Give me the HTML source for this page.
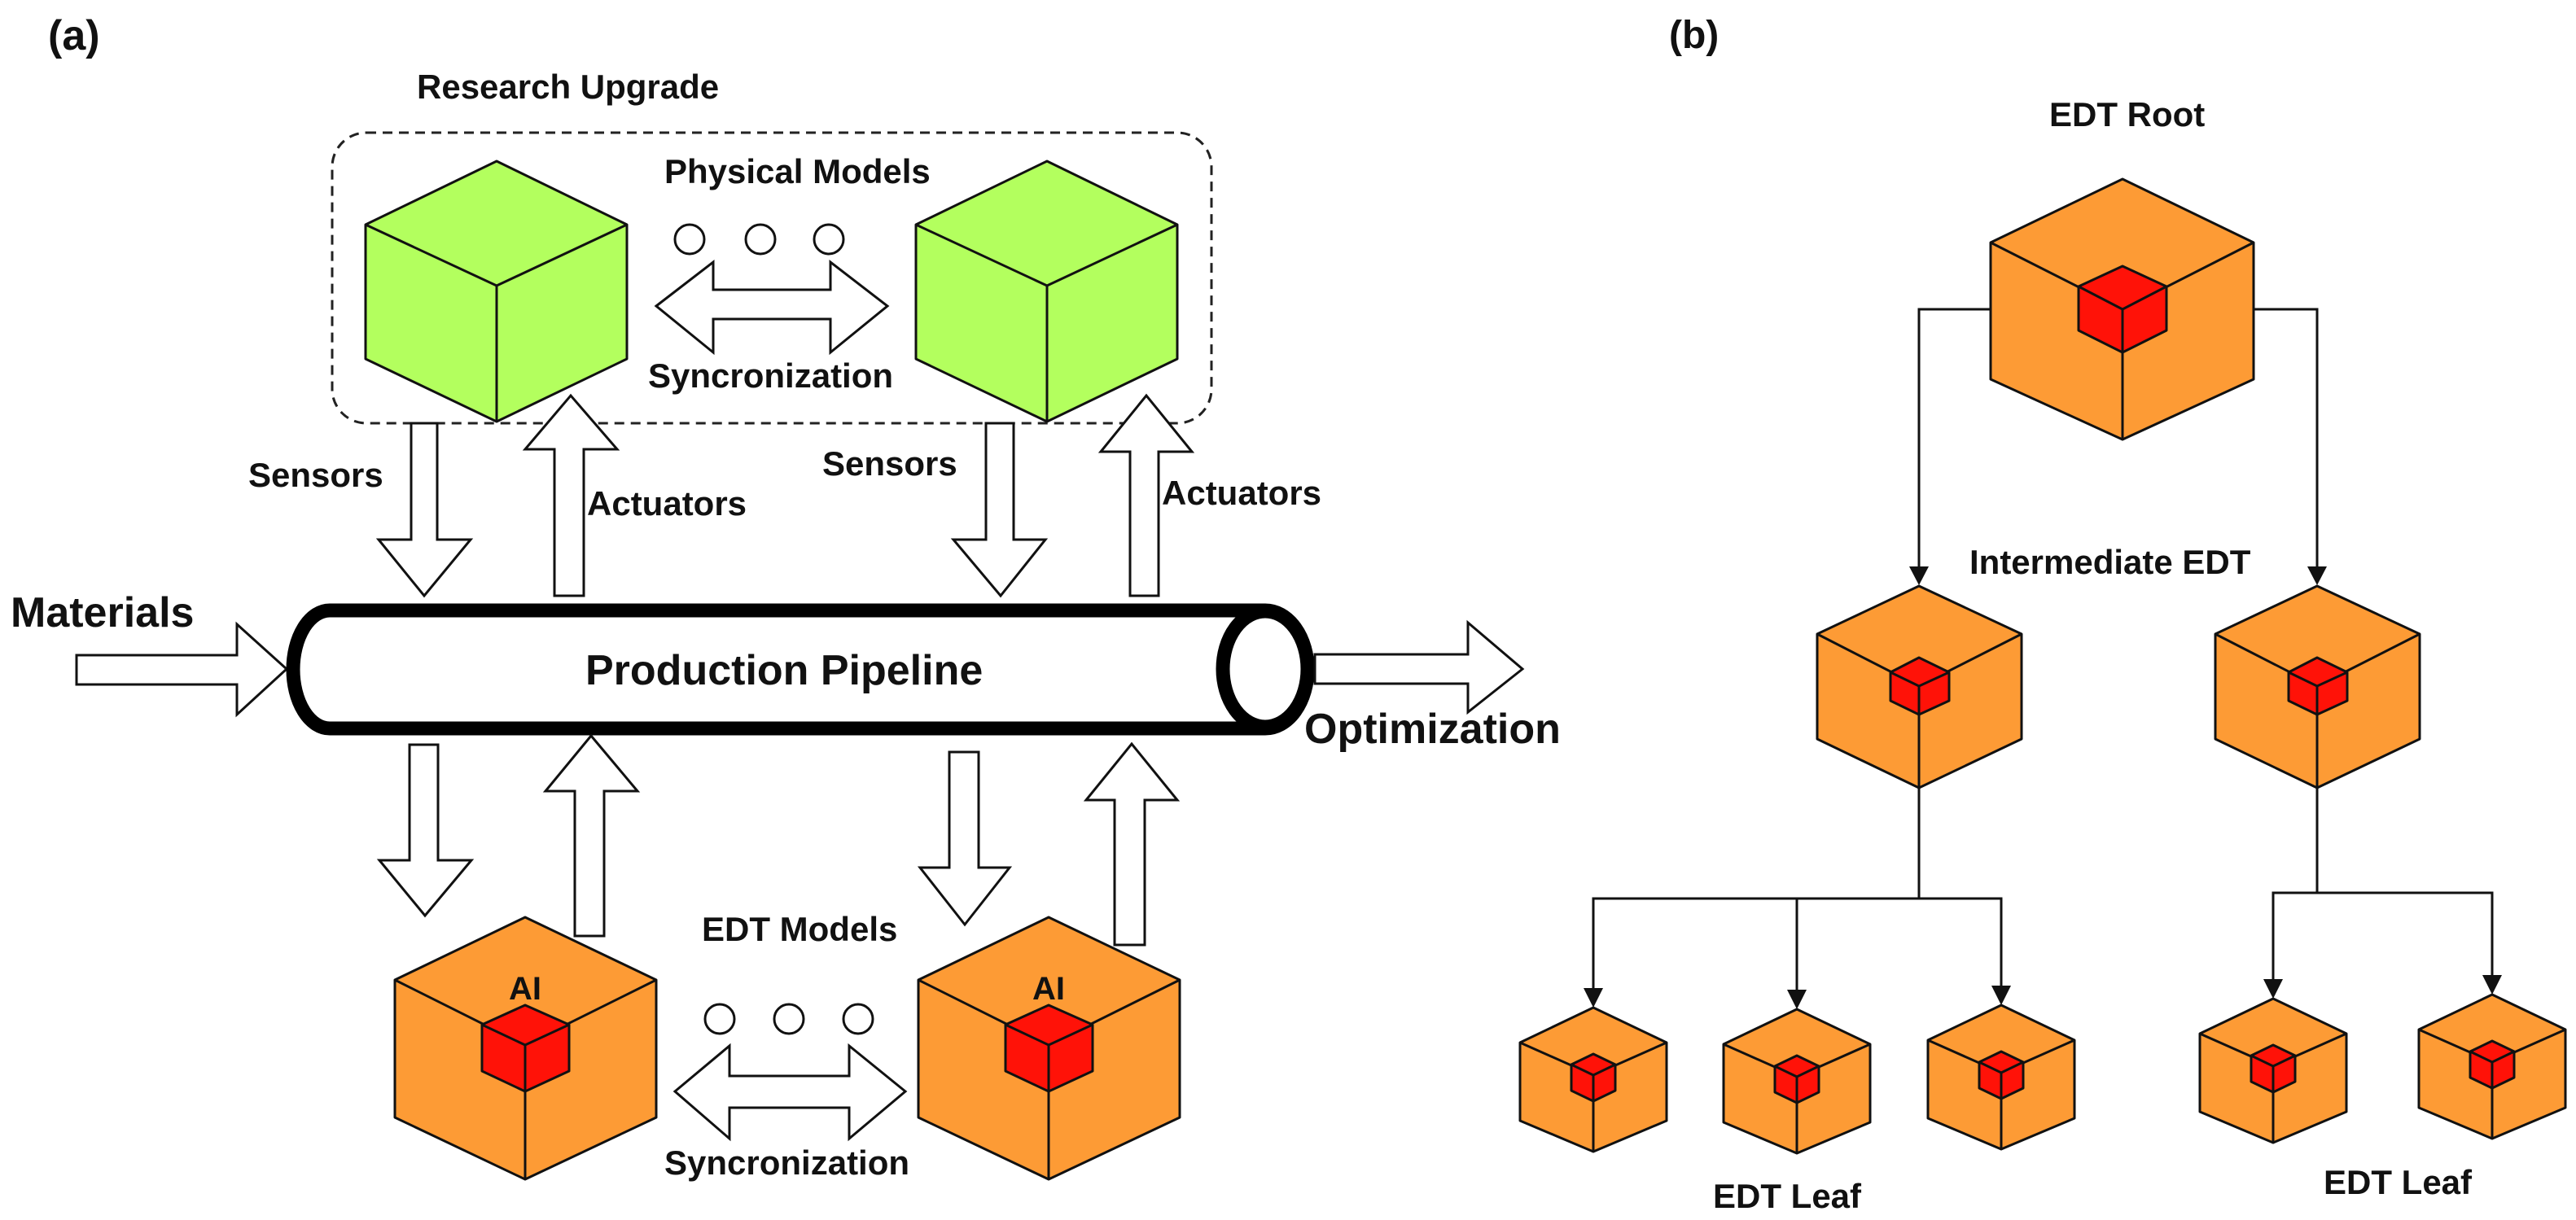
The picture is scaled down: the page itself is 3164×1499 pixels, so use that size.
<!DOCTYPE html>
<html><head><meta charset="utf-8"><style>
html,body{margin:0;padding:0;background:#fff;}
svg{display:block;}
text{font-family:"Liberation Sans",Arial,sans-serif;font-weight:bold;fill:#111;}
</style></head><body>
<svg width="3164" height="1499" viewBox="0 0 3164 1499" xmlns="http://www.w3.org/2000/svg">
<rect width="3164" height="1499" fill="#fff"/>

<!-- Panel (a) -->
<text x="59" y="61" font-size="52">(a)</text>
<text x="512" y="121" font-size="42">Research Upgrade</text>
<rect x="408" y="163" width="1080" height="357" rx="42" ry="42" fill="none" stroke="#222" stroke-width="3" stroke-dasharray="12,8"/>

<g stroke="#111" stroke-width="3" stroke-linejoin="round">
<polygon points="610,198 770,276 770,441 610,518 449,441 449,276" fill="#b3ff5e"/>
<polyline points="449,276 610,351 770,276" fill="none"/>
<line x1="610" y1="351" x2="610" y2="518"/>
<polygon points="1286,198 1446,276 1446,441 1286,518 1125,441 1125,276" fill="#b3ff5e"/>
<polyline points="1125,276 1286,351 1446,276" fill="none"/>
<line x1="1286" y1="351" x2="1286" y2="518"/>
</g>

<text x="816" y="225" font-size="42">Physical Models</text>
<g fill="#fff" stroke="#111" stroke-width="3">
<circle cx="847" cy="294" r="18"/><circle cx="934" cy="294" r="18"/><circle cx="1018" cy="294" r="18"/>
<polygon points="806,376 876,322 876,356 1020,356 1020,322 1090,376 1020,433 1020,392 876,392 876,433"/>
</g>
<text x="796" y="476" font-size="42">Syncronization</text>

<g fill="#fff" stroke="#111" stroke-width="3" stroke-linejoin="miter">
<polygon points="505,520 537,520 537,663 578,663 521,732 465,663 505,663"/>
<polygon points="681,732 717,732 717,552 758,552 701,486 645,552 681,552"/>
<polygon points="1211,520 1245,520 1245,663 1284,663 1229,732 1171,663 1211,663"/>
<polygon points="1388,732 1423,732 1423,555 1464,555 1408,486 1352,555 1388,555"/>
</g>
<text x="305" y="598" font-size="42">Sensors</text>
<text x="721" y="633" font-size="42">Actuators</text>
<text x="1010" y="584" font-size="42">Sensors</text>
<text x="1427" y="620" font-size="42">Actuators</text>

<text x="13" y="770" font-size="52">Materials</text>
<polygon points="94,805 291,805 291,767 352,822 291,878 291,841 94,841" fill="#fff" stroke="#111" stroke-width="3"/>

<path d="M405,750 L1554,750 A52,72.5 0 0 1 1554,895 L405,895 A45,72.5 0 0 1 405,750 Z" fill="#fff" stroke="#000" stroke-width="17"/>
<ellipse cx="1554" cy="822" rx="52" ry="71" fill="#fff" stroke="#000" stroke-width="17"/>
<text x="719" y="841" font-size="52">Production Pipeline</text>

<polygon points="1615,804 1803,804 1803,765 1870,822 1803,875 1803,840 1615,840" fill="#fff" stroke="#111" stroke-width="3"/>
<text x="1602" y="913" font-size="52">Optimization</text>

<g fill="#fff" stroke="#111" stroke-width="3">
<polygon points="503,915 538,915 538,1057 579,1057 522,1125 466,1057 503,1057"/>
<polygon points="706,1150 742,1150 742,972 783,972 726,904 670,972 706,972"/>
<polygon points="1166,924 1202,924 1202,1066 1240,1066 1185,1136 1130,1066 1166,1066"/>
<polygon points="1369,1161 1406,1161 1406,983 1446,983 1390,914 1334,983 1369,983"/>
</g>
<text x="862" y="1156" font-size="42">EDT Models</text>

<g stroke="#111" stroke-width="3" stroke-linejoin="round">
<polygon points="645,1127 806,1204 806,1373 645,1449 485,1373 485,1204" fill="#fd9b35"/>
<polyline points="485,1204 645,1284 806,1204" fill="none"/>
<line x1="645" y1="1284" x2="645" y2="1449"/>
<polygon points="645,1235 699,1259 699,1316 645,1341 592,1316 592,1259" fill="#ff1208"/>
<polyline points="592,1259 645,1284 699,1259" fill="none"/>
<line x1="645" y1="1284" x2="645" y2="1341"/>
<polygon points="1288,1127 1449,1204 1449,1373 1288,1449 1128,1373 1128,1204" fill="#fd9b35"/>
<polyline points="1128,1204 1288,1284 1449,1204" fill="none"/>
<line x1="1288" y1="1284" x2="1288" y2="1449"/>
<polygon points="1288,1235 1342,1259 1342,1316 1288,1341 1235,1316 1235,1259" fill="#ff1208"/>
<polyline points="1235,1259 1288,1284 1342,1259" fill="none"/>
<line x1="1288" y1="1284" x2="1288" y2="1341"/>
</g>
<text x="645" y="1228" font-size="40" text-anchor="middle">AI</text>
<text x="1288" y="1228" font-size="40" text-anchor="middle">AI</text>

<g fill="#fff" stroke="#111" stroke-width="3">
<circle cx="884" cy="1252" r="18"/><circle cx="969" cy="1252" r="18"/><circle cx="1054" cy="1252" r="18"/>
<polygon points="829,1341 896,1285 896,1322 1043,1322 1043,1285 1112,1341 1043,1399 1043,1361 896,1361 896,1399"/>
</g>
<text x="816" y="1443" font-size="42">Syncronization</text>

<!-- Panel (b) -->
<text x="2050" y="59" font-size="48">(b)</text>
<text x="2517" y="155" font-size="42">EDT Root</text>
<text x="2419" y="705" font-size="42">Intermediate EDT</text>
<text x="2104" y="1484" font-size="42">EDT Leaf</text>
<text x="2854" y="1467" font-size="42">EDT Leaf</text>

<g fill="none" stroke="#111" stroke-width="3">
<polyline points="2445,380 2357,380 2357,700"/>
<polyline points="2768,380 2846,380 2846,700"/>
<polyline points="2357,968 2357,1104"/>
<polyline points="1957,1221 1957,1104 2458,1104 2458,1218"/>
<line x1="2207" y1="1104" x2="2207" y2="1223"/>
<polyline points="2846,968 2846,1097"/>
<polyline points="2792,1210 2792,1097 3061,1097 3061,1205"/>
</g>
<g fill="#111">
<polygon points="2345,696 2369,696 2357,719"/>
<polygon points="2834,696 2858,696 2846,719"/>
<polygon points="1945,1214 1969,1214 1957,1238"/>
<polygon points="2195,1216 2219,1216 2207,1240"/>
<polygon points="2446,1211 2470,1211 2458,1235"/>
<polygon points="2780,1203 2804,1203 2792,1227"/>
<polygon points="3049,1198 3073,1198 3061,1222"/>
</g>

<g stroke="#111" stroke-width="3" stroke-linejoin="round">
<polygon points="2607,220 2768,298 2768,466 2607,540 2445,466 2445,298" fill="#fd9b35"/>
<polyline points="2445,298 2607,380 2768,298" fill="none"/>
<line x1="2607" y1="380" x2="2607" y2="540"/>
<polygon points="2607,327 2661,352 2661,406 2607,433 2553,406 2553,352" fill="#ff1208"/>
<polyline points="2553,352 2607,380 2661,352" fill="none"/>
<line x1="2607" y1="380" x2="2607" y2="433"/>
<polygon points="2357,720 2483,779 2483,908 2357,968 2232,908 2232,779" fill="#fd9b35"/>
<polyline points="2232,779 2357,843 2483,779" fill="none"/>
<line x1="2357" y1="843" x2="2357" y2="968"/>
<polygon points="2357,808 2394,826 2394,861 2357,878 2322,861 2322,826" fill="#ff1208"/>
<polyline points="2322,826 2357,843 2394,826" fill="none"/>
<line x1="2357" y1="843" x2="2357" y2="878"/>
<polygon points="2846,720 2972,779 2972,908 2846,968 2721,908 2721,779" fill="#fd9b35"/>
<polyline points="2721,779 2846,843 2972,779" fill="none"/>
<line x1="2846" y1="843" x2="2846" y2="968"/>
<polygon points="2846,808 2883,826 2883,861 2846,878 2811,861 2811,826" fill="#ff1208"/>
<polyline points="2811,826 2846,843 2883,826" fill="none"/>
<line x1="2846" y1="843" x2="2846" y2="878"/>
</g>

<g stroke="#111" stroke-width="3" stroke-linejoin="round">
<g transform="translate(1957,1238)">
<polygon points="0,0 90,43 90,139 0,177 -90,139 -90,43" fill="#fd9b35"/>
<polyline points="-90,43 0,83 90,43" fill="none"/><line x1="0" y1="83" x2="0" y2="177"/>
<polygon points="0,57 27,70 27,102 0,115 -27,102 -27,70" fill="#ff1208"/>
<polyline points="-27,70 0,83 27,70" fill="none"/><line x1="0" y1="83" x2="0" y2="115"/>
</g>
<g transform="translate(2207,1240)">
<polygon points="0,0 90,43 90,139 0,177 -90,139 -90,43" fill="#fd9b35"/>
<polyline points="-90,43 0,83 90,43" fill="none"/><line x1="0" y1="83" x2="0" y2="177"/>
<polygon points="0,57 27,70 27,102 0,115 -27,102 -27,70" fill="#ff1208"/>
<polyline points="-27,70 0,83 27,70" fill="none"/><line x1="0" y1="83" x2="0" y2="115"/>
</g>
<g transform="translate(2458,1235)">
<polygon points="0,0 90,43 90,139 0,177 -90,139 -90,43" fill="#fd9b35"/>
<polyline points="-90,43 0,83 90,43" fill="none"/><line x1="0" y1="83" x2="0" y2="177"/>
<polygon points="0,57 27,70 27,102 0,115 -27,102 -27,70" fill="#ff1208"/>
<polyline points="-27,70 0,83 27,70" fill="none"/><line x1="0" y1="83" x2="0" y2="115"/>
</g>
<g transform="translate(2792,1227)">
<polygon points="0,0 90,43 90,139 0,177 -90,139 -90,43" fill="#fd9b35"/>
<polyline points="-90,43 0,83 90,43" fill="none"/><line x1="0" y1="83" x2="0" y2="177"/>
<polygon points="0,57 27,70 27,102 0,115 -27,102 -27,70" fill="#ff1208"/>
<polyline points="-27,70 0,83 27,70" fill="none"/><line x1="0" y1="83" x2="0" y2="115"/>
</g>
<g transform="translate(3061,1222)">
<polygon points="0,0 90,43 90,139 0,177 -90,139 -90,43" fill="#fd9b35"/>
<polyline points="-90,43 0,83 90,43" fill="none"/><line x1="0" y1="83" x2="0" y2="177"/>
<polygon points="0,57 27,70 27,102 0,115 -27,102 -27,70" fill="#ff1208"/>
<polyline points="-27,70 0,83 27,70" fill="none"/><line x1="0" y1="83" x2="0" y2="115"/>
</g>
</g>
</svg>
</body></html>
